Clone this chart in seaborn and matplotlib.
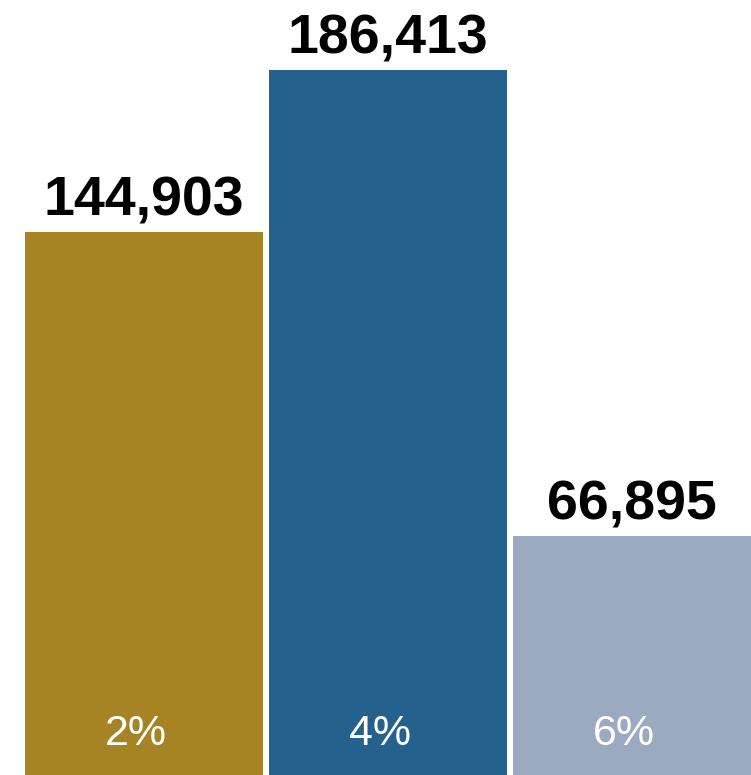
import matplotlib
matplotlib.use("Agg")
import matplotlib.pyplot as plt
import seaborn as sns
import pandas as pd
from matplotlib import font_manager

categories = ["2%", "4%", "6%"]
values = [144903, 186413, 66895]
colors = ["#A68424", "#25618D", "#9BAAC0"]

df = pd.DataFrame({"cat": categories, "val": values})

sns.set_theme(style="white")
plt.rcParams["font.family"] = ["Liberation Sans", "DejaVu Sans"]

fp_bold = font_manager.FontProperties(family=["Liberation Sans", "DejaVu Sans"],
                                      weight="bold", size=40)
fp_reg = font_manager.FontProperties(family=["Liberation Sans", "DejaVu Sans"],
                                     size=31)

fig = plt.figure(figsize=(7.51, 7.75), dpi=100)
ax = fig.add_axes([0, 0, 1, 1])
sns.barplot(data=df, x="cat", y="val", hue="cat", palette=colors,
            width=0.975, dodge=False, legend=False, ax=ax, saturation=1,
            edgecolor="none")

ax.set_xlim(-0.591, 2.487)
ax.set_ylim(5690, 204306)
ax.axis("off")

for i, (c, v) in enumerate(zip(categories, values)):
    ax.text(i, v + 4300, f"{v:,}", ha="center", va="baseline",
            fontproperties=fp_bold, color="black")
    ax.text(i - 0.033, 13400, c, ha="center", va="baseline",
            fontproperties=fp_reg, color="white")

fig.savefig("out.png", dpi=100)
